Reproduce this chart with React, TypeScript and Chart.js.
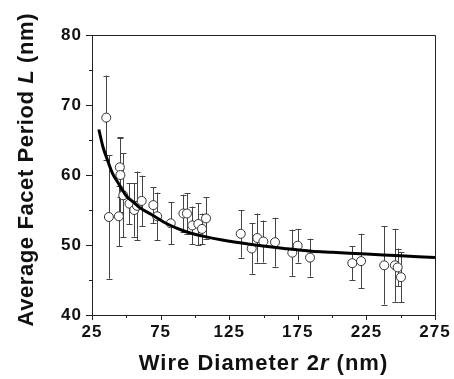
import React, { useEffect, useRef } from "react";
import { Chart, registerables } from "chart.js";

Chart.register(...registerables);

// Measured points: wire diameter 2r (nm), average facet period L (nm), error (nm)
const diameters = [35.4, 37.3, 44.6, 45.3, 45.7, 47.8, 52.3, 55.8, 57.8, 61.2, 69.7, 72.5, 82.4, 91.6, 94.2, 98.1, 102.5, 105.2, 108.1, 133.4, 141.4, 145.5, 149.9, 158.4, 171.0, 174.9, 183.9, 214.7, 221.1, 238.0, 245.8, 247.8, 250.2];
const periods = [68.2, 54.0, 54.1, 61.1, 60.0, 57.1, 55.9, 55.0, 55.6, 56.3, 55.7, 54.1, 53.1, 54.5, 54.5, 52.8, 53.0, 52.3, 53.8, 51.6, 49.5, 51.0, 50.5, 50.4, 48.9, 49.9, 48.2, 47.4, 47.7, 47.1, 47.1, 46.8, 45.4];
const errors = [6.0, 8.8, 4.3, 4.3, 5.3, 6.0, 2.9, 3.8, 4.9, 3.6, 2.6, 3.4, 3.0, 2.7, 2.9, 2.7, 3.0, 2.2, 3.0, 3.4, 3.6, 3.5, 3.0, 3.5, 3.3, 2.4, 2.7, 2.4, 3.9, 5.6, 5.2, 2.7, 3.6];

// Fitted curve
const fitX = [30, 33, 36, 40, 44, 50, 56, 60, 68, 80, 92, 105, 120, 140, 165, 185, 200, 225, 250, 275];
const fitY = [66.5, 64.0, 62.3, 60.2, 58.9, 57.0, 56.0, 55.3, 54.4, 53.0, 52.0, 51.3, 50.7, 50.1, 49.5, 49.1, 48.95, 48.7, 48.45, 48.2];

const xTicks = [25, 50, 75, 100, 125, 150, 175, 200, 225, 250, 275];
const xLabels = [25, 75, 125, 175, 225, 275];
const yTicks = [40, 45, 50, 55, 60, 65, 70, 75, 80];
const yLabels = [40, 50, 60, 70, 80];

const FONT = "'Liberation Sans', Arial, sans-serif";
const INK = "#111";

function drawMixed(ctx: any, parts: { t: string; it: boolean }[], size: number, spacing: number) {
  ctx.letterSpacing = spacing + "px";
  const fonts = parts.map((p) => `${p.it ? "italic " : ""}bold ${size}px ${FONT}`);
  let total = 0;
  const widths = parts.map((p, i) => {
    ctx.font = fonts[i];
    const w = ctx.measureText(p.t).width;
    total += w;
    return w;
  });
  total -= spacing;
  let x = -total / 2;
  parts.forEach((p, i) => {
    ctx.font = fonts[i];
    ctx.fillText(p.t, x, 0);
    x += widths[i];
  });
}

const customPlugin = {
  id: "custom",
  beforeDraw(chart: any) {
    chart.ctx.letterSpacing = "1px";
  },
  beforeDatasetsDraw(chart: any) {
    const ctx = chart.ctx;
    const xs = chart.scales.x;
    const ys = chart.scales.y;
    ctx.save();
    ctx.strokeStyle = "#444";
    ctx.lineWidth = 1;
    for (let i = 0; i < diameters.length; i++) {
      const px = Math.round(xs.getPixelForValue(diameters[i])) + 0.5;
      const top = ys.getPixelForValue(periods[i] + errors[i]);
      const bot = ys.getPixelForValue(periods[i] - errors[i]);
      ctx.beginPath();
      ctx.moveTo(px, top);
      ctx.lineTo(px, bot);
      ctx.moveTo(px - 3, Math.round(top) + 0.5);
      ctx.lineTo(px + 3, Math.round(top) + 0.5);
      ctx.moveTo(px - 3, Math.round(bot) + 0.5);
      ctx.lineTo(px + 3, Math.round(bot) + 0.5);
      ctx.stroke();
    }
    ctx.restore();
  },
  afterDraw(chart: any) {
    const ctx = chart.ctx;
    const xs = chart.scales.x;
    const ys = chart.scales.y;
    const a = chart.chartArea;
    ctx.save();
    ctx.strokeStyle = "#222";
    ctx.lineWidth = 1;
    ctx.beginPath();
    // frame top and right
    ctx.moveTo(a.left, a.top + 0.5);
    ctx.lineTo(a.right + 0.5, a.top + 0.5);
    ctx.lineTo(a.right + 0.5, a.bottom);
    // y ticks
    yTicks.forEach((v) => {
      const py = Math.round(ys.getPixelForValue(v)) + 0.5;
      const len = yLabels.includes(v) ? 6 : 3;
      ctx.moveTo(a.left - len, py);
      ctx.lineTo(a.left, py);
    });
    // x ticks
    xTicks.forEach((v) => {
      const px = Math.round(xs.getPixelForValue(v)) + 0.5;
      const len = xLabels.includes(v) ? 5 : 3;
      ctx.moveTo(px, a.bottom);
      ctx.lineTo(px, a.bottom + len);
    });
    ctx.stroke();

    // axis titles
    ctx.fillStyle = INK;
    ctx.textBaseline = "middle";
    ctx.textAlign = "left";
    ctx.save();
    ctx.translate(263, 364);
    drawMixed(ctx, [
      { t: "Wire Diameter 2", it: false },
      { t: "r", it: true },
      { t: " (nm)", it: false },
    ], 22, 1);
    ctx.restore();
    ctx.save();
    ctx.translate(27, 170);
    ctx.rotate(-Math.PI / 2);
    drawMixed(ctx, [
      { t: "Average Facet Period ", it: false },
      { t: "L", it: true },
      { t: " (nm)", it: false },
    ], 22, 0.6);
    ctx.restore();
    ctx.restore();
  },
};

export default function App() {
  const ref = useRef<HTMLCanvasElement | null>(null);
  useEffect(() => {
    if (!ref.current) return;
    const chart = new Chart(ref.current, {
      type: "scatter",
      data: {
        datasets: [
          {
            label: "fit",
            data: fitX.map((x, i) => ({ x, y: fitY[i] })),
            showLine: true,
            borderColor: "#000",
            borderWidth: 3,
            pointRadius: 0,
            tension: 0.4,
            cubicInterpolationMode: "monotone",
            order: 0,
          } as any,
          {
            label: "data",
            data: diameters.map((x, i) => ({ x, y: periods[i] })),
            pointRadius: 4.5,
            pointBackgroundColor: "#fff",
            pointBorderColor: "#333",
            pointBorderWidth: 1,
            showLine: false,
            order: 1,
          },
        ],
      },
      options: {
        responsive: false,
        animation: false,
        layout: { padding: { left: 0, right: 19, top: 35, bottom: 0 } },
        plugins: { legend: { display: false }, tooltip: { enabled: false } },
        scales: {
          x: {
            type: "linear",
            min: 25,
            max: 275,
            afterFit: (s: any) => {
              s.height = 64;
            },
            afterBuildTicks: (s: any) => {
              s.ticks = xTicks.map((v) => ({ value: v }));
            },
            ticks: {
              autoSkip: false,
              maxRotation: 0,
              padding: 1,
              color: INK,
              font: { family: FONT, size: 17, weight: "bold" },
              callback: (v: any) => (xLabels.includes(Number(v)) ? String(v) : ""),
            },
            grid: { display: true, drawOnChartArea: false, drawTicks: true, tickLength: 6, color: "rgba(0,0,0,0)" },
            border: { display: true, color: "#222", width: 1 },
          },
          y: {
            type: "linear",
            min: 40,
            max: 80,
            afterFit: (s: any) => {
              s.width = 92;
            },
            afterBuildTicks: (s: any) => {
              s.ticks = yTicks.map((v) => ({ value: v }));
            },
            ticks: {
              autoSkip: false,
              padding: 4,
              color: INK,
              font: { family: FONT, size: 17, weight: "bold" },
              callback: (v: any) => (yLabels.includes(Number(v)) ? String(v) : ""),
            },
            grid: { display: true, drawOnChartArea: false, drawTicks: true, tickLength: 6, color: "rgba(0,0,0,0)" },
            border: { display: true, color: "#222", width: 1 },
          },
        },
      },
      plugins: [customPlugin],
    });
    return () => chart.destroy();
  }, []);
  return (
    <div style={{ position: "fixed", left: 0, top: 0, width: 454, height: 379, background: "#fff" }}>
      <canvas ref={ref} width={454} height={379} style={{ width: 454, height: 379 }} />
    </div>
  );
}
